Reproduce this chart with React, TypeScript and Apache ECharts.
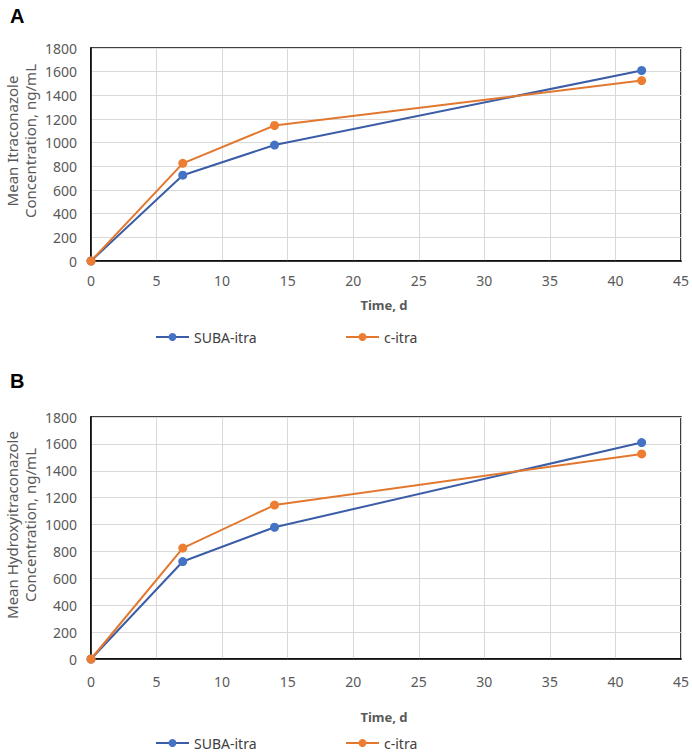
import React, { useEffect, useRef } from "react";
import * as echarts from "echarts";

const days = [0, 7, 14, 42];
const subaItra = [0, 725, 980, 1610];
const cItra = [0, 825, 1145, 1525];
const xTicks = { min: 0, max: 45, interval: 5 };
const yTicks = { min: 0, max: 1800, interval: 200 };
const seriesNames = ["SUBA-itra", "c-itra"];
const panelLabels = ["A", "B"];
const yNames = [
  ["Mean Itraconazole", "Concentration, ng/mL"],
  ["Mean Hydroxyitraconazole", "Concentration, ng/mL"],
];
const xName = "Time, d";

const BLUE = "#4472C4";
const BLUE_LINE = "#3A5DA6";
const ORANGE = "#ED7D31";
const ORANGE_LINE = "#E2772F";
const FONT = "Noto Sans";

export default function App() {
  const ref = useRef<HTMLDivElement>(null);
  useEffect(() => {
    document.body.style.margin = "0";
    const chart = echarts.init(ref.current!, null, { renderer: "svg" });
    const grids = [
      { left: 91, top: 48, width: 591, height: 213 },
      { left: 91, top: 417, width: 591, height: 242 },
    ];
    const xAxis = grids.map((_, i) => ({
      type: "value",
      gridIndex: i,
      min: xTicks.min,
      max: xTicks.max,
      interval: xTicks.interval,
      axisLine: { show: true, lineStyle: { color: "#000", width: 1.5 } },
      axisTick: { show: false },
      axisLabel: { color: "#595959", fontSize: 14, fontFamily: FONT, margin: i === 0 ? 12 : 15 },
      splitLine: { show: true, lineStyle: { color: "#d9d9d9", width: 1 } },
    }));
    const yAxis = grids.map((_, i) => ({
      type: "value",
      gridIndex: i,
      min: yTicks.min,
      max: yTicks.max,
      interval: yTicks.interval,
      axisLine: { show: true, lineStyle: { color: "#000", width: 1.5 } },
      axisTick: { show: false },
      axisLabel: {
        color: "#595959",
        fontSize: 14,
        fontFamily: FONT,
        margin: 14,
        formatter: (v: number) => String(v),
      },
      splitLine: { show: true, lineStyle: { color: "#d9d9d9", width: 1 } },
    }));
    const mk = (name: string, vals: number[], color: string, lineColor: string, idx: number) => ({
      type: "line",
      name,
      xAxisIndex: idx,
      yAxisIndex: idx,
      data: days.map((d, k) => [d, vals[k]]),
      lineStyle: { color: lineColor, width: 2 },
      itemStyle: { color },
      symbol: "circle",
      symbolSize: 9,
      showSymbol: true,
    });
    const series: any[] = [];
    [0, 1].forEach((i) => {
      series.push(mk(seriesNames[0], subaItra, BLUE, BLUE_LINE, i));
      series.push(mk(seriesNames[1], cItra, ORANGE, ORANGE_LINE, i));
    });
    const legendTops = [325, 731];
    const legends: any[] = [];
    legendTops.forEach((t) => {
      legends.push({ left: 150, top: t, data: [seriesNames[0]] });
      legends.push({ left: 340, top: t, data: [seriesNames[1]] });
    });
    const legend = legends.map((l) => ({
      ...l,
      itemWidth: 33,
      itemHeight: 10,
      itemGap: 6,
      selectedMode: false,
      textStyle: { color: "#404040", fontSize: 14, fontFamily: FONT },
    }));
    const ynameX = [12, 30];
    const graphic: any[] = [];
    const labelY = [17, 382];
    const plotCenters = [141, 525];
    const xNameY = [305, 717];
    [0, 1].forEach((i) => {
      graphic.push({
        type: "text",
        left: 10,
        top: labelY[i] - 11,
        style: { text: panelLabels[i], fontSize: 20, fontWeight: "bold", fontFamily: "Liberation Sans", fill: "#000" },
      });
      yNames[i].forEach((line, j) => {
        graphic.push({
          type: "text",
          x: ynameX[j],
          y: plotCenters[i],
          rotation: Math.PI / 2,
          style: {
            text: line,
            fontSize: 15,
            fontFamily: FONT,
            fill: "#595959",
            align: "center",
            verticalAlign: "middle",
          },
        });
      });
      graphic.push({
        type: "text",
        x: 384,
        y: xNameY[i],
        style: {
          text: xName,
          fontSize: 13,
          fontWeight: "bold",
          fontFamily: FONT,
          fill: "#595959",
          align: "center",
          verticalAlign: "middle",
        },
      });
    });
    chart.setOption({
      animation: false,
      backgroundColor: "#fff",
      grid: grids.map((g) => ({ ...g, show: true, borderColor: "#000", borderWidth: 1.5, containLabel: false })),
      xAxis,
      yAxis,
      series,
      legend,
      graphic,
    });
    return () => chart.dispose();
  }, []);
  return <div ref={ref} style={{ width: 692, height: 753 }} />;
}
